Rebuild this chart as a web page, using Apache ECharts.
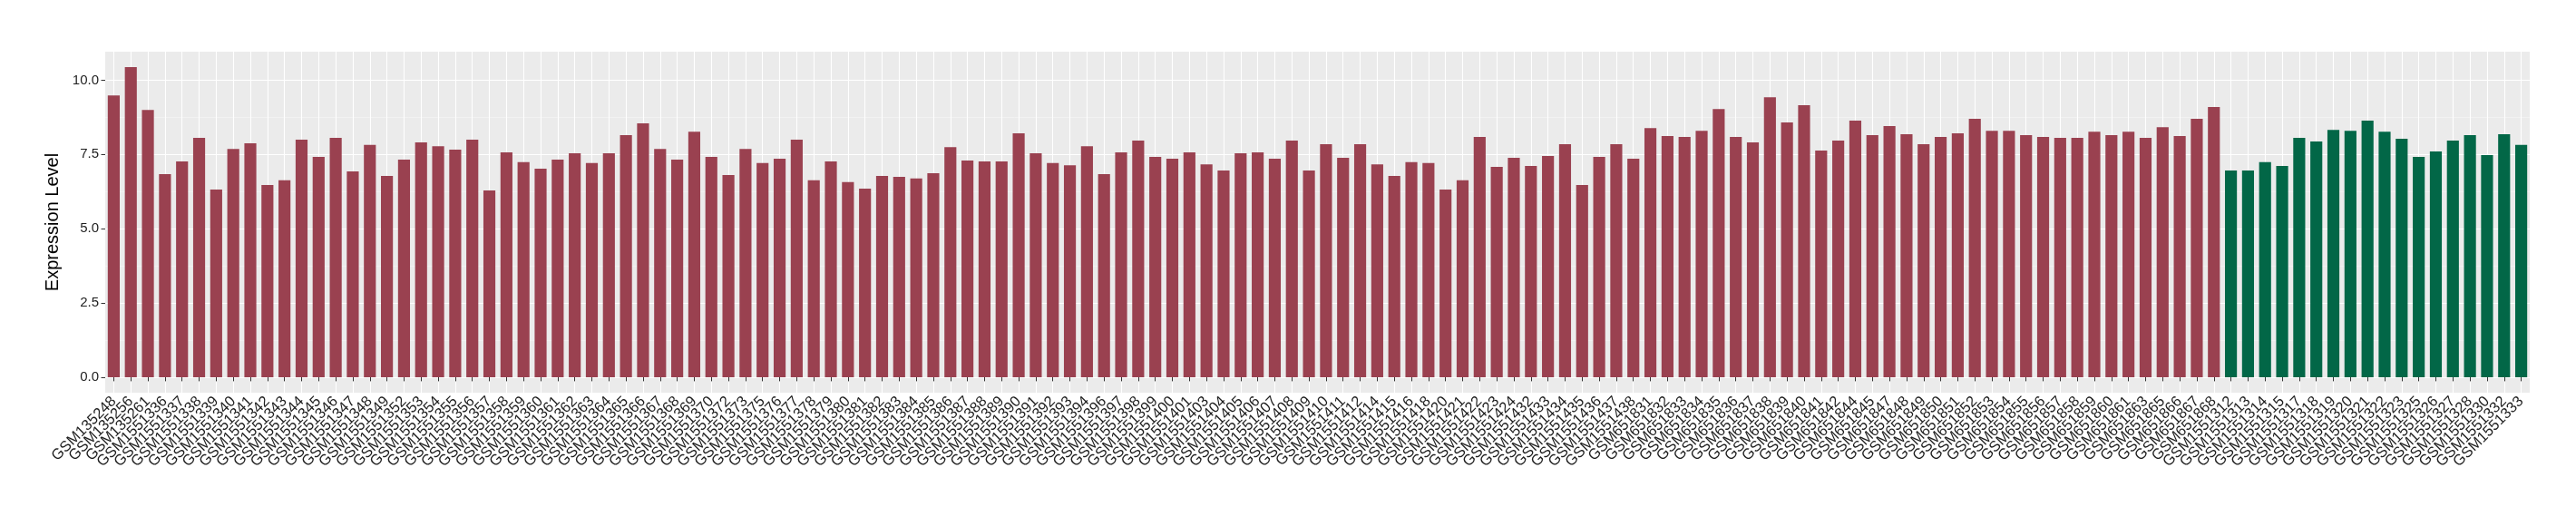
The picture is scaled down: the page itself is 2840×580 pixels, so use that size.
<!DOCTYPE html>
<html>
<head>
<meta charset="utf-8">
<script src="https://cdn.jsdelivr.net/npm/echarts@6/dist/echarts.min.js"></script>
<style>
  html, body { margin: 0; padding: 0; background: #fff; }
  #chart { width: 2840px; height: 580px; }
</style>
</head>
<body>
<div id="chart"></div>
<script>
// sample ids, left to right
const redSamples = [
  "GSM135248", "GSM135256", "GSM135261",
  "GSM1551336", "GSM1551337", "GSM1551338", "GSM1551339", "GSM1551340", "GSM1551341",
  "GSM1551342", "GSM1551343", "GSM1551344", "GSM1551345", "GSM1551346", "GSM1551347",
  "GSM1551348", "GSM1551349", "GSM1551352", "GSM1551353", "GSM1551354", "GSM1551355",
  "GSM1551356", "GSM1551357", "GSM1551358", "GSM1551359", "GSM1551360", "GSM1551361",
  "GSM1551362", "GSM1551363", "GSM1551364", "GSM1551365", "GSM1551366", "GSM1551367",
  "GSM1551368", "GSM1551369", "GSM1551370", "GSM1551372", "GSM1551373", "GSM1551375",
  "GSM1551376", "GSM1551377", "GSM1551378", "GSM1551379", "GSM1551380", "GSM1551381",
  "GSM1551382", "GSM1551383", "GSM1551384", "GSM1551385", "GSM1551386", "GSM1551387",
  "GSM1551388", "GSM1551389", "GSM1551390", "GSM1551391", "GSM1551392", "GSM1551393",
  "GSM1551394", "GSM1551396", "GSM1551397", "GSM1551398", "GSM1551399", "GSM1551400",
  "GSM1551401", "GSM1551403", "GSM1551404", "GSM1551405", "GSM1551406", "GSM1551407",
  "GSM1551408", "GSM1551409", "GSM1551410", "GSM1551411", "GSM1551412", "GSM1551414",
  "GSM1551415", "GSM1551416", "GSM1551418", "GSM1551420", "GSM1551421", "GSM1551422",
  "GSM1551423", "GSM1551424", "GSM1551432", "GSM1551433", "GSM1551434", "GSM1551435",
  "GSM1551436", "GSM1551437", "GSM1551438",
  "GSM651831", "GSM651832", "GSM651833", "GSM651834", "GSM651835", "GSM651836",
  "GSM651837", "GSM651838", "GSM651839", "GSM651840", "GSM651841", "GSM651842",
  "GSM651844", "GSM651845", "GSM651847", "GSM651848", "GSM651849", "GSM651850",
  "GSM651851", "GSM651852", "GSM651853", "GSM651854", "GSM651855", "GSM651856",
  "GSM651857", "GSM651858", "GSM651859", "GSM651860", "GSM651861", "GSM651863",
  "GSM651865", "GSM651866", "GSM651867", "GSM651868"
];
const greenSamples = [
  "GSM1551312", "GSM1551313", "GSM1551314", "GSM1551315", "GSM1551317", "GSM1551318",
  "GSM1551319", "GSM1551320", "GSM1551321", "GSM1551322", "GSM1551323", "GSM1551325",
  "GSM1551326", "GSM1551327", "GSM1551328", "GSM1551330", "GSM1551332", "GSM1551333"
];

// expression values
const redValues = [
  9.49, 10.44, 9.00, 6.84, 7.27, 8.06, 6.32, 7.69, 7.88, 6.47,
  6.63, 8.00, 7.42, 8.06, 6.93, 7.82, 6.78, 7.33, 7.91, 7.78,
  7.66, 8.00, 6.29, 7.57, 7.24, 7.02, 7.33, 7.54, 7.21, 7.54,
  8.15, 8.55, 7.69, 7.33, 8.27, 7.42, 6.81, 7.69, 7.21, 7.36,
  8.00, 6.63, 7.27, 6.57, 6.35, 6.78, 6.75, 6.69, 6.87, 7.75,
  7.30, 7.27, 7.27, 8.21, 7.54, 7.21, 7.14, 7.78, 6.84, 7.57,
  7.97, 7.42, 7.36, 7.57, 7.17, 6.96, 7.54, 7.57, 7.36, 7.97,
  6.96, 7.85, 7.39, 7.85, 7.17, 6.78, 7.24, 7.21, 6.32, 6.63,
  8.09, 7.08, 7.39, 7.11, 7.45, 7.85, 6.47, 7.42, 7.85, 7.36,
  8.39, 8.12, 8.09, 8.30, 9.03, 8.09, 7.91, 9.43, 8.58, 9.16,
  7.63, 7.97, 8.64, 8.15, 8.46, 8.18, 7.85, 8.09, 8.21, 8.70,
  8.30, 8.30, 8.15, 8.09, 8.06, 8.06, 8.27, 8.15, 8.27, 8.06,
  8.42, 8.12, 8.70, 9.10
];
const greenValues = [
  6.96, 6.96, 7.24, 7.11, 8.06, 7.94, 8.33, 8.30, 8.64, 8.27,
  8.03, 7.42, 7.60, 7.97, 8.15, 7.48, 8.18, 7.82
];

const yMajorTicks = [0, 2.5, 5, 7.5, 10];
const yMinorTicks = [1.25, 3.75, 6.25, 8.75];
const yTickLabels = ["0.0", "2.5", "5.0", "7.5", "10.0"];

const RED = "#9A4150";
const GREEN = "#026747";
const FONT = "Liberation Sans, Arial, Helvetica, sans-serif";

const categories = redSamples.concat(greenSamples);
const barData = redValues.map(v => ({ value: v, itemStyle: { color: RED } }))
  .concat(greenValues.map(v => ({ value: v, itemStyle: { color: GREEN } })));

const chart = echarts.init(document.getElementById("chart"), null, { renderer: "canvas" });

const option = {
  animation: false,
  backgroundColor: "#ffffff",
  grid: {
    left: 116, right: 51, top: 57, bottom: 147,
    show: true, backgroundColor: "#EBEBEB", borderWidth: 0,
    containLabel: false
  },
  xAxis: {
    type: "category",
    data: categories,
    boundaryGap: true,
    axisLine: { show: false },
    axisTick: { show: true, alignWithLabel: true, length: 4.5, lineStyle: { color: "#333333", width: 1 } },
    splitLine: { show: true, alignWithLabel: true, lineStyle: { color: "#ffffff", width: 1.1 } },
    axisLabel: {
      interval: 0, rotate: 45, margin: 7,
      color: "#1E1E1E", fontSize: 16.5, fontFamily: FONT
    }
  },
  yAxis: [
    {
      type: "value",
      min: -0.522, max: 10.962,
      name: "Expression Level",
      nameLocation: "middle",
      nameGap: 28,
      nameTextStyle: { color: "#000000", fontSize: 20, fontFamily: FONT },
      axisLine: { show: false },
      axisTick: { show: true, length: 4.5, customValues: yMajorTicks, lineStyle: { color: "#333333", width: 1 } },
      axisLabel: {
        customValues: yMajorTicks,
        margin: 7,
        color: "#1E1E1E", fontSize: 15, fontFamily: FONT,
        formatter: v => yTickLabels[yMajorTicks.indexOf(v)]
      },
      splitLine: { show: true, lineStyle: { color: "#ffffff", width: 1.1 } }
    },
    {
      type: "value",
      min: -0.522, max: 10.962,
      position: "left",
      axisLine: { show: false },
      axisTick: { show: false, customValues: yMinorTicks },
      axisLabel: { show: false, customValues: yMinorTicks },
      splitLine: { show: true, lineStyle: { color: "#F7F7F7", width: 0.6 } }
    }
  ],
  series: [
    {
      type: "bar",
      yAxisIndex: 0,
      barWidth: "70%",
      data: barData
    }
  ]
};

chart.setOption(option);
</script>
</body>
</html>
